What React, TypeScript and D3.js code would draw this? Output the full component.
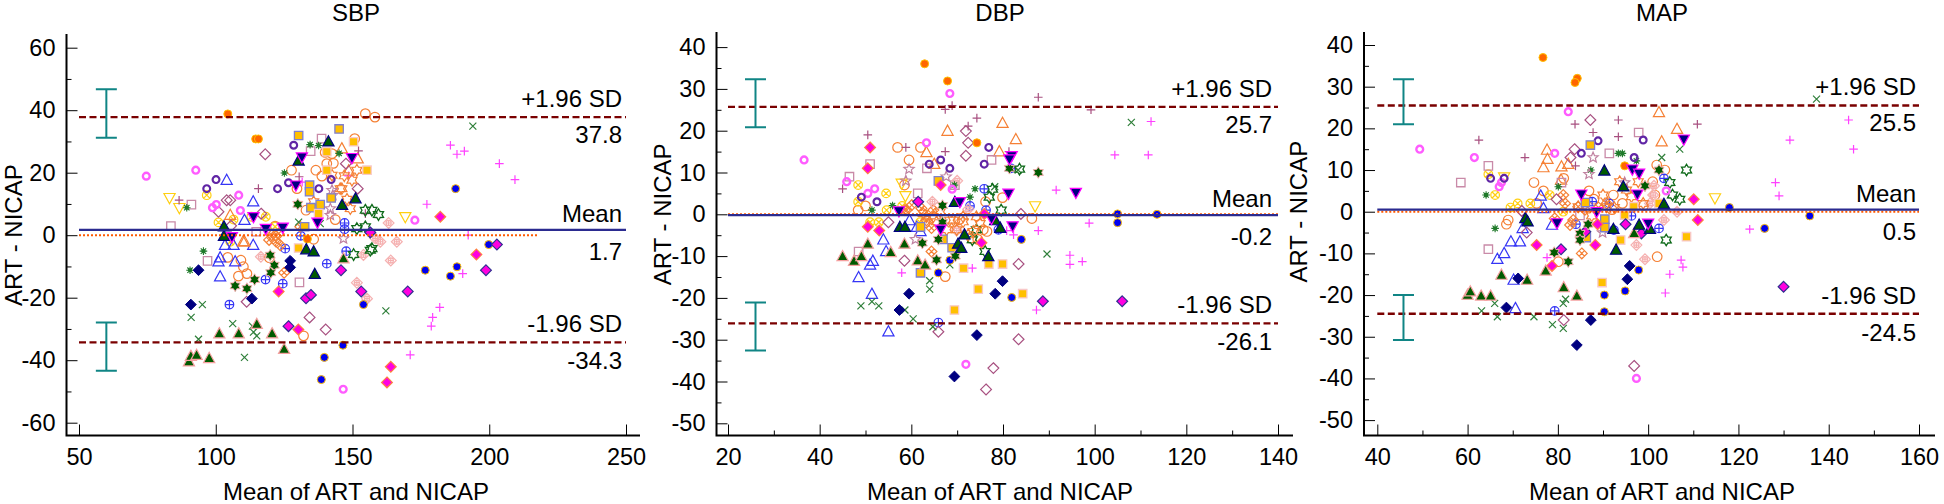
import React, { useEffect, useRef } from 'react';
import * as d3 from 'd3';

type Pt = number[];

// ---- SBP values as [mean, difference]
const sbpOrangeDot: Pt[] = [[104.4,38.8],[114.6,30.8],[115.6,30.8],[133.5,-1.2]];
const sbpPinkRing: Pt[] = [[74.6,18.9],[92.7,20.8],[108.4,12.8],[100.2,9.8],[98.8,8.8],[109,7.9],[172.8,4.8],[146.6,-49.3]];
const sbpPurpleRing: Pt[] = [[96.7,14.9],[100.1,17.8],[122.6,14.9],[126.6,16.8],[128.5,28.8],[137.7,14.9],[142.2,17.8]];
const sbpOrangeCircle: Pt[] = [[127.7,20.8],[136.6,20.8],[138.8,18.9],[140.6,22.9],[150.8,30.9],[129.7,14.9],[143.7,5],[121.7,2.9],[135.8,-1.3],[104.4,-7.1],[109.2,-8],[110.1,-10.1],[111.4,-12.3],[108.3,-13.1],[154.7,38.9],[158.2,37.8],[142.5,26.1],[119.6,-7.2],[132.1,-32.2],[140,26.5],[143,23],[133,8]];
const sbpYellowCross: Pt[] = [[96.7,12.8],[101,4.1],[106.5,5],[113,5.9],[118.3,5.9],[121.7,2.7],[105.3,-2.1]];
const sbpBluePlus: Pt[] = [[147.1,3.9],[147.1,1.9],[147.7,-5.1],[140.6,-9.1],[124.5,-15.5],[118.2,-14.2],[125.4,-4.3],[131.1,-0.2],[105,-22.2]];
const sbpBlueTri: Pt[] = [[104,17.6],[113.7,10.7],[110.5,4.8],[103.4,-3.2],[106.5,-3.2],[113.7,-3.2],[101.6,-7.2],[101,-8.5],[107.1,-8.5],[101.6,-13.3]];
const sbpOrangeTri: Pt[] = [[105.3,6.4],[110.5,-2.1],[110,-2.1],[146.1,27.7],[151.9,24.5],[148.6,20.6]];
const sbpGreenTriPink: Pt[] = [[90.2,-40.5],[90.9,-38.7],[93,-38.4],[97.6,-39.4],[101.3,-31.5],[108.4,-31.5],[115,-28.5],[120.6,-31.5],[125,-36.5],[146.7,-7.5]];
const sbpGreenTriNavy: Pt[] = [[141.2,29.9],[130.3,23.8],[146.2,9.6],[151.1,11.7],[103,2.7],[103,-0.3],[133.1,-4.6],[135.8,-5.3],[136.2,-12.5]];
const sbpNavyDown: Pt[] = [[131.5,25],[149.8,24.8],[129.3,16],[137.2,4.1],[118.3,2.1],[124.5,2.5],[105.9,-0.5],[113.8,5.9]];
const sbpYellowDown: Pt[] = [[83.1,12],[86.7,8.8],[169.3,5.9]];
const sbpGoldBlue: Pt[] = [[130.3,31.9],[145.1,34],[134.3,16],[134.3,13.9],[134.8,8.8],[138.2,9.8],[142.2,11.9],[132.5,2.7]];
const sbpGoldPink: Pt[] = [[150.4,29.9],[140.6,26.7],[140.6,20.8],[155.3,20.8],[130.3,-4.1],[137.6,6.9]];
const sbpPinkSquare: Pt[] = [[138.7,30.9],[134.7,26.9],[91.1,9.8],[83.6,2.9],[97,-8.2],[130.6,-15.1],[114.8,1.1]];
const sbpOrangeHatch: Pt[] = [[130.9,2.7],[121.7,0],[120.5,0],[123.6,-3.2],[125,-12],[123,0.5],[119.5,-1.5],[122,-2]];
const sbpPinkCrossed: Pt[] = [[116.5,-6.9],[163.2,3.9],[160.2,-2.1],[166.2,-2.1],[154,-6.3],[158.3,-1],[164,-8.1],[151.6,-15.2],[155.3,-20.3]];
const sbpMauveDiamond: Pt[] = [[118.1,25.9],[147.6,22.9],[151.9,14.9],[105.3,11.2],[104,11.2],[101,7.5],[116.6,6.9],[105.6,3],[111.3,-21.3],[134.3,-26.3],[140.2,-30.2]];
const sbpMagentaOrange: Pt[] = [[123,-18],[130.2,-30.2],[182.1,5.9],[195.3,-6.2],[164,-42.1],[162.6,-47.1]];
const sbpMagentaNavy: Pt[] = [[133,-20.2],[134.8,-19.1],[126.6,-29.1],[145.8,-11.2],[153.2,-18],[170.2,-18],[198.8,-11.2],[202.8,-3],[156.5,0.9]];
const sbpNavyDiamond: Pt[] = [[93.7,-11.2],[90.9,-22.2],[113.2,-20.3],[127.2,-8.2],[127.2,-10.3]];
const sbpGreenX: Pt[] = [[130.3,4.2],[95.1,-22.2],[91,-26.3],[93.7,-33.3],[106.2,-28.3],[110.5,-39.1],[113.4,-29.1],[113.8,-31],[115,-32.2],[162.2,-24.2],[194,34.9],[138.2,3.7]];
const sbpMauvePlus: Pt[] = [[86.6,11.2],[115.6,14.9],[130.5,18.7],[152.2,27],[154.7,6.9]];
const sbpMagentaPlus: Pt[] = [[185.8,28.8],[188.2,25.9],[190.9,26.9],[203.7,22.9],[209.4,17.8],[177.2,9.9],[192.3,0],[148.6,19],[131.6,17],[190.3,-12.3],[181.9,-23.1],[179.3,-26.3],[178.8,-29.1],[171.1,-38.3]];
const sbpGreenAsterisk: Pt[] = [[134.5,29],[137.6,28.7],[145.1,26.2],[125.1,19.9],[95.5,-5.1],[90.6,-11.2],[89.4,8.8]];
const sbpGreenStar: Pt[] = [[130,9.9],[119.9,-6.4],[121.4,-9.6],[120.1,-12],[114.2,-14.2],[107.1,-16.2],[111.4,-17.1]];
const sbpGreenOpenStar: Pt[] = [[154.7,8],[151.6,2.1],[150.4,-6.2],[156.5,-4.8],[157.1,8],[159.5,6.6],[154.7,2.7],[157.1,-4.3]];
const sbpOrangeStar: Pt[] = [[151.6,20.8],[149.8,17.6],[145.5,14.9],[149.2,8.5],[142.5,19.2],[135.8,10.7],[146.1,14.9],[148,11.5],[147,19]];
const sbpMauveStar: Pt[] = [[142.5,14.4],[142.8,12.8],[141.9,8.5],[141.9,6.4],[146.7,-1.1]];
const sbpBlueDot: Pt[] = [[187.7,14.9],[199.8,-3],[176.6,-11.2],[188.2,-10.1],[185.8,-13.1],[154,-22.2],[146.5,-35.2],[139.7,-39.1],[138.6,-46.2]];

// ---- DBP values
const dbpOrangeDot: Pt[] = [[62.9,36],[67.9,31.9],[74.3,17.1]];
const dbpPinkRing: Pt[] = [[36.6,13],[68.4,28.9],[63.3,17.1],[45.9,7.8],[50.5,5],[52,6.1],[68.9,6],[71.9,-35.9]];
const dbpPurpleRing: Pt[] = [[49.1,4.1],[52.5,3],[63.9,12],[66.4,13],[68.4,11],[75.9,12],[76.9,16]];
const dbpOrangeCircle: Pt[] = [[57,16],[62,16],[59.5,13],[50,2],[48.4,1],[76.2,3],[79.9,4],[86.3,-1],[67.4,-14.9],[58.5,7],[73.1,-5.7],[75.7,-3.7],[76.5,-4.1],[74.5,-6],[70.5,-1.2],[63,-2]];
const dbpYellowCross: Pt[] = [[48.4,7],[54.5,5],[48.4,3],[54.6,1],[58,2],[51,-1.9],[52.9,-1.9],[61.9,-1.9]];
const dbpBluePlus: Pt[] = [[75.9,6.1],[72.8,2],[76.3,1],[79,-3.7],[81.7,11],[65.9,-25.9]];
const dbpBlueTri: Pt[] = [[55,-28.1],[51.4,-19.1],[48.5,-15.1],[51,-12.1],[51.6,-11.2],[53.9,-6.1],[54.5,-8.9],[59.6,-1.5],[61.2,-3.1],[62,-4.1]];
const dbpOrangeTri: Pt[] = [[79.9,21.8],[82.8,17.9],[67.9,19.9],[63.3,14.8],[65,12],[79.2,15]];
const dbpGreenTriPink: Pt[] = [[45,-10.1],[47.5,-11.2],[49.1,-10.1],[50.5,-7.1],[55.5,-9.1],[58.5,-7.1],[61.4,-11.1],[63,-12.1]];
const dbpGreenTriNavy: Pt[] = [[57.5,-3.1],[58.6,-3.1],[71.6,-4.9],[70.2,-7.1],[70.9,-8.1],[76.8,-10.1],[78.3,-1.5],[79.4,-3.3],[69.5,2.9]];
const dbpNavyDown: Pt[] = [[81.9,14],[81.2,5],[82.1,-2.8],[66.4,-3.6],[81.4,13.2],[70.6,3],[57.3,0.8],[77.5,-1],[95.9,5.2]];
const dbpYellowDown: Pt[] = [[87,2],[58.7,4.4],[57.9,7.4]];
const dbpGoldBlue: Pt[] = [[62,-14],[68.9,-8],[66.9,-6],[65.9,8],[62,-3]];
const dbpGoldPink: Pt[] = [[71.4,-12.9],[76.9,-11.9],[79.9,-11.9],[74.6,-17.9],[84.3,-19],[69.4,-22.9]];
const dbpPinkSquare: Pt[] = [[51,12],[46.5,9],[63.4,11],[77.5,13],[61.4,5],[69.5,7],[48.5,-8.9]];
const dbpOrangeHatch: Pt[] = [[60.1,2.2],[59,1],[64.8,1],[63.3,-1.4],[64.4,-3.3],[64.4,-8.9],[62.2,1.4],[58.6,1]];
const dbpPinkCrossed: Pt[] = [[64.6,3],[70,8],[72.4,1.2],[69.9,-3.9]];
const dbpMauveDiamond: Pt[] = [[71.9,19.9],[72.4,17.1],[71.9,14],[55,-1.9],[83.9,0.1],[58.5,-11.1],[83.4,-11.9],[83.4,-29.9],[77.9,-36.8],[76.3,-41.9],[65.9,-28.1]];
const dbpMagentaOrange: Pt[] = [[51,16],[50.5,11],[66.4,7],[50.5,-3],[53,-3.9],[75.3,-6.8],[75.9,0.1]];
const dbpMagentaNavy: Pt[] = [[61.5,3],[88.7,-20.8],[106,-20.8]];
const dbpNavyDiamond: Pt[] = [[59.5,-19],[57.4,-22.9],[79.9,-16],[78.3,-19],[74.3,-28.9],[69.4,-38.8]];
const dbpGreenX: Pt[] = [[49,-21.9],[51.4,-20.9],[52.9,-21.9],[58.6,-22.9],[60.4,-25],[64.7,-26.9],[64,-15.9],[64,-17.9],[78.2,6.6],[83.3,10.6],[68.4,-12.1],[89.6,-9.5],[108,22]];
const dbpMauvePlus: Pt[] = [[50.5,19],[45,6.1],[58.8,16],[67.4,25.1],[68.9,26],[74.3,23],[72.4,21.1],[67.4,15],[81.3,15],[87.7,28],[99.2,25]];
const dbpMagentaPlus: Pt[] = [[57.9,-14],[73.3,-12.9],[82.3,-4.9],[80.8,-3.9],[87.3,-22.9],[87.7,-3.9],[91.6,5.8],[104.4,14.2],[112.3,22.2],[111.7,14.2],[98.8,-2.1],[97.3,-11.3],[94.6,-9.8],[94.6,-12]];
const dbpGreenAsterisk: Pt[] = [[51.4,1],[55.9,2.1],[69.4,7],[73.9,6.1],[72.8,4.1]];
const dbpGreenStar: Pt[] = [[65.9,-6],[62.4,-6.9],[65.5,-10.9],[69.6,-10],[66.8,2.1],[66.8,-1.9],[81.4,11],[87.7,10]];
const dbpGreenOpenStar: Pt[] = [[83.6,10.8],[77.7,6],[77,4.1],[79.6,1],[73.3,-6.1],[74.2,-3.7],[76.1,-8.9]];
const dbpOrangeStar: Pt[] = [[71.3,-0.6],[69.2,-1.4],[66.3,0.6],[75,-2.2],[73.5,-4.1],[67.7,-3.7],[64.8,-0.6],[63.3,-0.6],[65.5,-1.8],[68.4,-1.4],[71.3,-1.8],[69.9,-3.7],[74.2,-0.6],[72.4,-4.9],[62.6,0.2]];
const dbpMauveStar: Pt[] = [[59.5,10.8],[58.8,8],[67.6,9],[60.9,-6]];
const dbpBlueDot: Pt[] = [[84,-6],[68.4,-11],[65.9,-14],[81.9,-19.9],[105,-2],[105,0.1],[113.6,0]];

// ---- MAP values
const mapOrangeDot: Pt[] = [[76.7,37],[84.3,32],[83.8,31],[94.8,11]];
const mapPinkRing: Pt[] = [[49.4,15],[61.5,13],[79.3,14],[82.3,24],[67.5,7],[67,6],[104,5],[97.4,-40]];
const mapPurpleRing: Pt[] = [[65.1,8],[68.1,8],[85.2,14],[88.9,17],[96.9,13],[98.9,17.2]];
const mapOrangeCircle: Pt[] = [[74.7,7],[76.8,5],[81.3,8],[86.9,5],[92.3,4],[94.3,2],[75.3,2],[69,-2],[68.6,-3],[101.9,11.2],[103.7,10],[101,7.2],[101.5,4],[102,-10.8],[80.1,-12],[88,3],[92,0.5],[99,1.5]];
const mapYellowCross: Pt[] = [[66.1,4],[71.1,2],[69.5,1],[78.2,4],[73.9,2],[64.6,9],[81.2,0]];
const mapBluePlus: Pt[] = [[87.6,2.4],[91.4,2],[96.3,-1],[92.4,-4.4],[84,-3],[103.5,8],[102.4,-4],[79.3,-23.8]];
const mapBlueTri: Pt[] = [[76.2,3.8],[76.8,0.8],[72.2,-4],[78.7,-3.2],[69.6,-7.2],[71.6,-7.2],[68.1,-10],[66.6,-11.4],[70.2,-16.4],[70.6,-23.2]];
const mapOrangeTri: Pt[] = [[77.6,14.8],[77.7,12.6],[76.8,10.6],[80.8,10.8],[80.7,7.6],[82.3,11.4],[102.4,23.8],[106.4,19.8],[103,16.8]];
const mapGreenTriPink: Pt[] = [[60,-20],[60.6,-19.2],[63,-20.2],[65.1,-20.2],[67.5,-15.2],[73.2,-16.4],[77.3,-14.2],[81.3,-18.2],[84.2,-20.2],[96.9,-5.2]];
const mapGreenTriNavy: Pt[] = [[72.8,-1.6],[73.3,-2.4],[90.3,9.8],[94.5,6],[103.5,1.8],[92.3,-4.2],[98,-3.2],[100.4,-4.2],[92.9,-9.2]];
const mapNavyDown: Pt[] = [[85.2,4.2],[96.5,10.2],[98,9.2],[97.6,4.2],[88.6,0],[100,-2.8],[79.8,-2.7],[107.9,17.4]];
const mapYellowDown: Pt[] = [[68.1,8.3],[114.8,3.3]];
const mapGoldBlue: Pt[] = [[87.2,16],[86.1,2.2],[90.4,-1.8],[90.4,-3.8],[86.3,-6.2]];
const mapGoldPink: Pt[] = [[94.8,-0.8],[93.9,-6.8],[96.8,1.2],[89.8,-17],[102.4,2],[108.5,-6]];
const mapPinkSquare: Pt[] = [[58.5,7],[64.6,11],[91.4,14],[97.9,19],[80.8,7],[84.9,-0.9],[64.6,-9]];
const mapOrangeHatch: Pt[] = [[81.2,4],[81.6,2],[79.3,-1.6],[82.7,-3.2],[83.4,-2],[85.3,-10],[84.5,1.2],[90.8,2],[86,0.5],[89,1]];
const mapPinkCrossed: Pt[] = [[101.3,6.2],[100.4,2],[103.5,-2],[97.4,-8],[106.4,0],[99.3,-11.4],[101.1,4]];
const mapMauveDiamond: Pt[] = [[87.2,22],[83.7,15],[82.8,13],[79.7,3],[72,0.2],[73.1,-5],[81.3,-26],[96.9,-37]];
const mapMagentaOrange: Pt[] = [[75.3,-8],[78.7,-13],[88.8,-3],[88.3,-8],[110.1,3],[111,-2]];
const mapMagentaNavy: Pt[] = [[80.7,-9],[95,-3],[86.1,-4.8],[98.5,-5.2],[130,-18]];
const mapNavyDiamond: Pt[] = [[71.2,-16],[68.6,-23],[87.3,-26],[84.2,-32],[95.9,-13],[95.4,-16.2]];
const mapGreenX: Pt[] = [[63.1,-23.8],[66,-22],[66.6,-25.2],[74.7,-25.2],[78.8,-27.1],[81.2,-22],[81.7,-21],[81.2,-28],[103,13],[107,15],[137.3,27]];
const mapMauvePlus: Pt[] = [[62.5,17.2],[72.7,13],[83.8,21],[87.8,19],[93.4,22],[93.4,18],[83.9,11],[110.9,21]];
const mapMagentaPlus: Pt[] = [[77.6,-11],[144.4,22],[145.5,15],[131.4,17.2],[128.2,7],[129,3.8],[122.5,-4.2],[107.3,-11.6],[107.7,-13.3],[104.8,-15],[103.8,-19.5]];
const mapGreenAsterisk: Pt[] = [[64.1,4],[66.1,-4],[87.3,10],[93.4,14],[94.3,14],[80.1,6],[97.4,12.2]];
const mapGreenStar: Pt[] = [[86.7,-3],[84.9,-5.2],[84.9,-6.8],[79.2,-9.8],[82.3,-12],[102.4,10],[99.3,6.2]];
const mapGreenOpenStar: Pt[] = [[108.5,10],[107,3],[104.8,7],[105.4,4],[104,-6.8]];
const mapOrangeStar: Pt[] = [[90,4],[93.7,7.2],[97.8,7.2],[90.8,1.2],[96.3,3.6],[98.9,2],[95.2,5.2],[84.5,1.2],[92.5,1],[87.5,-1]];
const mapMauveStar: Pt[] = [[87.8,13],[86.9,9],[94.8,7],[89.9,-5]];
const mapBlueDot: Pt[] = [[90.3,-20],[94.9,-19],[90.3,-24],[97.9,-14],[118,1],[125.8,-4],[135.8,-1]];

const markerKeys = ['orangeCircle','yellowCross','bluePlus','blueTri','orangeTri','yellowDown','pinkSquare','orangeHatch','pinkCrossed','mauveDiamond','greenX','mauvePlus','magentaPlus','greenAsterisk','greenOpenStar','orangeStar','mauveStar','pinkRing','purpleRing','goldBlue','goldPink','orangeDot','blueDot','navyDiamond','magentaOrange','magentaNavy','greenStar','greenTriPink','greenTriNavy','navyDown'];

const sbpSeries: Record<string, Pt[]> = { orangeCircle: sbpOrangeCircle, yellowCross: sbpYellowCross, bluePlus: sbpBluePlus, blueTri: sbpBlueTri, orangeTri: sbpOrangeTri, yellowDown: sbpYellowDown, pinkSquare: sbpPinkSquare, orangeHatch: sbpOrangeHatch, pinkCrossed: sbpPinkCrossed, mauveDiamond: sbpMauveDiamond, greenX: sbpGreenX, mauvePlus: sbpMauvePlus, magentaPlus: sbpMagentaPlus, greenAsterisk: sbpGreenAsterisk, greenOpenStar: sbpGreenOpenStar, orangeStar: sbpOrangeStar, mauveStar: sbpMauveStar, pinkRing: sbpPinkRing, purpleRing: sbpPurpleRing, goldBlue: sbpGoldBlue, goldPink: sbpGoldPink, orangeDot: sbpOrangeDot, blueDot: sbpBlueDot, navyDiamond: sbpNavyDiamond, magentaOrange: sbpMagentaOrange, magentaNavy: sbpMagentaNavy, greenStar: sbpGreenStar, greenTriPink: sbpGreenTriPink, greenTriNavy: sbpGreenTriNavy, navyDown: sbpNavyDown };
const dbpSeries: Record<string, Pt[]> = { orangeCircle: dbpOrangeCircle, yellowCross: dbpYellowCross, bluePlus: dbpBluePlus, blueTri: dbpBlueTri, orangeTri: dbpOrangeTri, yellowDown: dbpYellowDown, pinkSquare: dbpPinkSquare, orangeHatch: dbpOrangeHatch, pinkCrossed: dbpPinkCrossed, mauveDiamond: dbpMauveDiamond, greenX: dbpGreenX, mauvePlus: dbpMauvePlus, magentaPlus: dbpMagentaPlus, greenAsterisk: dbpGreenAsterisk, greenOpenStar: dbpGreenOpenStar, orangeStar: dbpOrangeStar, mauveStar: dbpMauveStar, pinkRing: dbpPinkRing, purpleRing: dbpPurpleRing, goldBlue: dbpGoldBlue, goldPink: dbpGoldPink, orangeDot: dbpOrangeDot, blueDot: dbpBlueDot, navyDiamond: dbpNavyDiamond, magentaOrange: dbpMagentaOrange, magentaNavy: dbpMagentaNavy, greenStar: dbpGreenStar, greenTriPink: dbpGreenTriPink, greenTriNavy: dbpGreenTriNavy, navyDown: dbpNavyDown };
const mapSeries: Record<string, Pt[]> = { orangeCircle: mapOrangeCircle, yellowCross: mapYellowCross, bluePlus: mapBluePlus, blueTri: mapBlueTri, orangeTri: mapOrangeTri, yellowDown: mapYellowDown, pinkSquare: mapPinkSquare, orangeHatch: mapOrangeHatch, pinkCrossed: mapPinkCrossed, mauveDiamond: mapMauveDiamond, greenX: mapGreenX, mauvePlus: mapMauvePlus, magentaPlus: mapMagentaPlus, greenAsterisk: mapGreenAsterisk, greenOpenStar: mapGreenOpenStar, orangeStar: mapOrangeStar, mauveStar: mapMauveStar, pinkRing: mapPinkRing, purpleRing: mapPurpleRing, goldBlue: mapGoldBlue, goldPink: mapGoldPink, orangeDot: mapOrangeDot, blueDot: mapBlueDot, navyDiamond: mapNavyDiamond, magentaOrange: mapMagentaOrange, magentaNavy: mapMagentaNavy, greenStar: mapGreenStar, greenTriPink: mapGreenTriPink, greenTriNavy: mapGreenTriNavy, navyDown: mapNavyDown };

const markerStyle: Record<string, { shape: string; fill: string; stroke: string; sw: number }> = {
  orangeCircle: { shape: 'circle', fill: 'none', stroke: '#f58035', sw: 1.2 },
  yellowCross: { shape: 'crossCircle', fill: 'none', stroke: '#ffcf10', sw: 1.2 },
  bluePlus: { shape: 'plusCircle', fill: 'none', stroke: '#3535f5', sw: 1.2 },
  blueTri: { shape: 'triUp', fill: 'none', stroke: '#3535f5', sw: 1.2 },
  orangeTri: { shape: 'triUp', fill: 'none', stroke: '#f58035', sw: 1.2 },
  yellowDown: { shape: 'triDown', fill: 'none', stroke: '#ffcf10', sw: 1.2 },
  pinkSquare: { shape: 'square', fill: 'none', stroke: '#c98aa8', sw: 1.3 },
  orangeHatch: { shape: 'hatch', fill: 'none', stroke: '#f58035', sw: 1.2 },
  pinkCrossed: { shape: 'crossDiamond', fill: 'none', stroke: '#f5b0b0', sw: 1.2 },
  mauveDiamond: { shape: 'diamond', fill: 'none', stroke: '#a85080', sw: 1.2 },
  greenX: { shape: 'x', fill: 'none', stroke: '#2f7f3a', sw: 1.2 },
  mauvePlus: { shape: 'plus', fill: 'none', stroke: '#a85080', sw: 1.2 },
  magentaPlus: { shape: 'plus', fill: 'none', stroke: '#ff40ff', sw: 1.2 },
  greenAsterisk: { shape: 'asterisk', fill: 'none', stroke: '#1f7a2a', sw: 1.1 },
  greenOpenStar: { shape: 'star6', fill: 'none', stroke: '#0f6a1a', sw: 1.3 },
  orangeStar: { shape: 'star6', fill: 'none', stroke: '#f58035', sw: 1.2 },
  mauveStar: { shape: 'star5', fill: 'none', stroke: '#c080a0', sw: 1.2 },
  pinkRing: { shape: 'ring', fill: 'none', stroke: '#ff5cff', sw: 2.4 },
  purpleRing: { shape: 'ring', fill: 'none', stroke: '#6025a5', sw: 2.2 },
  goldBlue: { shape: 'square', fill: '#ffc000', stroke: '#7f7fd0', sw: 1.3 },
  goldPink: { shape: 'square', fill: '#ffc000', stroke: '#f8c8c8', sw: 1.3 },
  orangeDot: { shape: 'dot', fill: '#ff6600', stroke: '#ffc000', sw: 1 },
  blueDot: { shape: 'dot', fill: '#0000f0', stroke: '#ffc000', sw: 1 },
  navyDiamond: { shape: 'diamond', fill: '#000080', stroke: '#000080', sw: 1 },
  magentaOrange: { shape: 'diamond', fill: '#ff00e0', stroke: '#ff8040', sw: 1.2 },
  magentaNavy: { shape: 'diamond', fill: '#ff00e0', stroke: '#303090', sw: 1.2 },
  greenStar: { shape: 'star6', fill: '#005a00', stroke: '#f5b0b0', sw: 1 },
  greenTriPink: { shape: 'triUp', fill: '#005a00', stroke: '#f5a0a0', sw: 1.2 },
  greenTriNavy: { shape: 'triUp', fill: '#005a00', stroke: '#000080', sw: 1.2 },
  navyDown: { shape: 'triDown', fill: '#000080', stroke: '#ff00ff', sw: 1.2 },
};

const panels = [
  { title: 'SBP', series: sbpSeries, xDomain: [50, 250], xRange: [79, 626], yDomain: [-60, 60], yRange: [422.7, 47.7], axisX: 66.5, axisRight: 640, axisTop: 34, xMajor: [50, 100, 150, 200, 250], xMinor: [] as number[], yMajor: [-60, -40, -20, 0, 20, 40, 60], yMinor: [-50, -30, -10, 10, 30, 50], upper: 37.8, mean: 1.7, lower: -34.3, zeroEnd: 218, barX: 60, barHi: [46.7, 31.2], barLo: [-27.9, -43.4], labelRight: 622, titleX: 356, yLabelX: 22 },
  { title: 'DBP', series: dbpSeries, xDomain: [20, 140], xRange: [728, 1278], yDomain: [-50, 40], yRange: [423.3, 47.1], axisX: 716.5, axisRight: 1293, axisTop: 32, xMajor: [20, 40, 60, 80, 100, 120, 140], xMinor: [30, 50, 70, 90, 110, 130], yMajor: [-50, -40, -30, -20, -10, 0, 10, 20, 30, 40], yMinor: [-45, -35, -25, -15, -5, 5, 15, 25, 35], upper: 25.7, mean: -0.2, lower: -26.1, zeroEnd: 140, barX: 26, barHi: [32.3, 20.8], barLo: [-21.1, -32.6], labelRight: 1272, titleX: 1000, yLabelX: 671 },
  { title: 'MAP', series: mapSeries, xDomain: [40, 160], xRange: [1377.3, 1919], yDomain: [-50, 40], yRange: [420.1, 45], axisX: 1364, axisRight: 1935, axisTop: 32, xMajor: [40, 60, 80, 100, 120, 140, 160], xMinor: [50, 70, 90, 110, 130, 150], yMajor: [-50, -40, -30, -20, -10, 0, 10, 20, 30, 40], yMinor: [-45, -35, -25, -15, -5, 5, 15, 25, 35], upper: 25.5, mean: 0.5, lower: -24.5, zeroEnd: 160, barX: 45.8, barHi: [31.8, 21], barLo: [-20, -30.8], labelRight: 1916, titleX: 1662, yLabelX: 1307 },
];

const AXIS_Y = 435.5;
const FONT = '"Liberation Sans", Arial, sans-serif';

function polygon(p: d3.Path, pts: number[][]) {
  pts.forEach((q, i) => (i ? p.lineTo(q[0], q[1]) : p.moveTo(q[0], q[1])));
  p.closePath();
}

function seg(p: d3.Path, x0: number, y0: number, x1: number, y1: number) {
  p.moveTo(x0, y0);
  p.lineTo(x1, y1);
}

function markerPath(shape: string) {
  const p = d3.path();
  const circle = (r: number) => {
    p.moveTo(r, 0);
    p.arc(0, 0, r, 0, Math.PI * 2);
  };
  const diamond = (r: number) => polygon(p, [[0, -r], [r, 0], [0, r], [-r, 0]]);
  if (shape === 'circle') circle(4.8);
  if (shape === 'dot') circle(4);
  if (shape === 'ring') circle(3.4);
  if (shape === 'crossCircle' || shape === 'plusCircle') {
    circle(4.3);
    if (shape === 'crossCircle') {
      seg(p, -3, -3, 3, 3);
      seg(p, -3, 3, 3, -3);
    } else {
      seg(p, -4.3, 0, 4.3, 0);
      seg(p, 0, -4.3, 0, 4.3);
    }
  }
  if (shape === 'triUp') polygon(p, [[0, -6], [5.6, 4.2], [-5.6, 4.2]]);
  if (shape === 'triDown') polygon(p, [[0, 6], [5.6, -4.2], [-5.6, -4.2]]);
  if (shape === 'square') polygon(p, [[-4.2, -4.2], [4.2, -4.2], [4.2, 4.2], [-4.2, 4.2]]);
  if (shape === 'diamond') diamond(5.4);
  if (shape === 'hatch') {
    diamond(5.4);
    seg(p, -2.7, -2.7, 2.7, 2.7);
    seg(p, -2.7, 2.7, 2.7, -2.7);
  }
  if (shape === 'crossDiamond') {
    diamond(5.4);
    circle(2.6);
    seg(p, -3.2, 0, 3.2, 0);
    seg(p, 0, -3.2, 0, 3.2);
  }
  if (shape === 'x') {
    seg(p, -3.5, -3.5, 3.5, 3.5);
    seg(p, -3.5, 3.5, 3.5, -3.5);
  }
  if (shape === 'plus') {
    seg(p, -4.3, 0, 4.3, 0);
    seg(p, 0, -4.3, 0, 4.3);
  }
  if (shape === 'asterisk') {
    d3.range(4).forEach(i => {
      const a = (i * Math.PI) / 4;
      seg(p, -3.8 * Math.cos(a), -3.8 * Math.sin(a), 3.8 * Math.cos(a), 3.8 * Math.sin(a));
    });
    circle(1.7);
  }
  if (shape === 'star6' || shape === 'star5') {
    const n = shape === 'star6' ? 6 : 5;
    const outer = shape === 'star6' ? 5.8 : 5.4;
    const inner = shape === 'star6' ? 3.4 : 2.4;
    polygon(p, d3.range(n * 2).map(i => {
      const a = (i * Math.PI) / n - Math.PI / 2;
      const r = i % 2 ? inner : outer;
      return [r * Math.cos(a), r * Math.sin(a)];
    }));
  }
  return p.toString();
}

export default function App() {
  const svgRef = useRef<SVGSVGElement>(null);

  useEffect(() => {
    const svg = d3.select(svgRef.current);
    svg.selectAll('*').remove();

    panels.forEach(cfg => {
      const x = d3.scaleLinear().domain(cfg.xDomain).range(cfg.xRange);
      const y = d3.scaleLinear().domain(cfg.yDomain).range(cfg.yRange);
      const g = svg.append('g');
      const x0 = cfg.xRange[0];
      const x1 = cfg.xRange[1];

      // markers, oldest series underneath
      markerKeys.forEach(key => {
        const st = markerStyle[key];
        g.append('g')
          .selectAll('path')
          .data(cfg.series[key])
          .enter()
          .append('path')
          .attr('d', markerPath(st.shape))
          .attr('transform', d => `translate(${x(d[0])},${y(d[1])})`)
          .attr('fill', st.fill)
          .attr('stroke', st.stroke)
          .attr('stroke-width', st.sw);
      });

      // reference lines sit on top of the points
      g.append('line').attr('x1', x0).attr('x2', x(cfg.zeroEnd)).attr('y1', y(0)).attr('y2', y(0))
        .attr('stroke', '#ff5a00').attr('stroke-width', 2).attr('stroke-dasharray', '2 2');
      g.append('line').attr('x1', x0).attr('x2', x1).attr('y1', y(cfg.mean)).attr('y2', y(cfg.mean))
        .attr('stroke', '#2b2b90').attr('stroke-width', 2.4);
      [cfg.upper, cfg.lower].forEach(v => {
        g.append('line').attr('x1', x0).attr('x2', x1).attr('y1', y(v)).attr('y2', y(v))
          .attr('stroke', '#7a0000').attr('stroke-width', 2.4).attr('stroke-dasharray', '7 3.5');
      });

      // confidence bars on the limits
      [cfg.barHi, cfg.barLo].forEach(bar => {
        const bx = x(cfg.barX);
        const p = d3.path();
        seg(p, bx - 10.5, y(bar[0]), bx + 10.5, y(bar[0]));
        seg(p, bx, y(bar[0]), bx, y(bar[1]));
        seg(p, bx - 10.5, y(bar[1]), bx + 10.5, y(bar[1]));
        g.append('path').attr('d', p.toString()).attr('fill', 'none').attr('stroke', '#108585').attr('stroke-width', 2);
      });

      // axes
      const fmt = (d: d3.NumberValue) => String(d);
      const yAxis = g.append('g').attr('transform', `translate(${cfg.axisX},0)`)
        .call(d3.axisLeft(y).tickValues(cfg.yMajor).tickSizeInner(-11).tickSizeOuter(0).tickPadding(11).tickFormat(fmt));
      const yMinorAxis = g.append('g').attr('transform', `translate(${cfg.axisX},0)`)
        .call(d3.axisLeft(y).tickValues(cfg.yMinor).tickSizeInner(-5).tickSizeOuter(0).tickFormat(() => ''));
      const xAxis = g.append('g').attr('transform', `translate(0,${AXIS_Y})`)
        .call(d3.axisBottom(x).tickValues(cfg.xMajor).tickSizeInner(-11).tickSizeOuter(0).tickPadding(13).tickFormat(fmt));
      const xMinorAxis = g.append('g').attr('transform', `translate(0,${AXIS_Y})`)
        .call(d3.axisBottom(x).tickValues(cfg.xMinor).tickSizeInner(-5).tickSizeOuter(0).tickFormat(() => ''));
      [yAxis, yMinorAxis, xAxis, xMinorAxis].forEach(a => {
        a.select('.domain').remove();
        a.selectAll('text').attr('font-family', FONT).attr('font-size', 23.5).attr('fill', '#000');
        a.selectAll('line').attr('stroke', '#000').attr('stroke-width', 1);
      });
      xAxis.selectAll('text').attr('dy', '0.71em');

      const spine = d3.path();
      spine.moveTo(cfg.axisX, cfg.axisTop);
      spine.lineTo(cfg.axisX, AXIS_Y);
      spine.lineTo(cfg.axisRight, AXIS_Y);
      g.append('path').attr('d', spine.toString()).attr('fill', 'none').attr('stroke', '#000').attr('stroke-width', 2);

      // texts
      const text = (tx: number, ty: number, s: string, anchor = 'middle') =>
        g.append('text').attr('x', tx).attr('y', ty).attr('text-anchor', anchor)
          .attr('font-family', FONT).attr('font-size', 24).attr('fill', '#000').text(s);

      text(cfg.titleX, 21, cfg.title);
      text(cfg.titleX, 500, 'Mean of ART and NICAP');
      text(cfg.yLabelX, y(0), 'ART - NICAP').attr('transform', `rotate(-90,${cfg.yLabelX},${y(0)})`);

      text(cfg.labelRight, y(cfg.upper) - 10, '+1.96 SD', 'end');
      text(cfg.labelRight, y(cfg.upper) + 26, String(cfg.upper), 'end');
      text(cfg.labelRight, y(cfg.mean) - 8, 'Mean', 'end');
      text(cfg.labelRight, y(cfg.mean) + 30, String(cfg.mean), 'end');
      text(cfg.labelRight, y(cfg.lower) - 10, '-1.96 SD', 'end');
      text(cfg.labelRight, y(cfg.lower) + 27, String(cfg.lower), 'end');
    });
  }, []);

  return <svg ref={svgRef} width={1944} height={504} style={{ position: 'absolute', left: 0, top: 0, background: '#fff' }} />;
}
